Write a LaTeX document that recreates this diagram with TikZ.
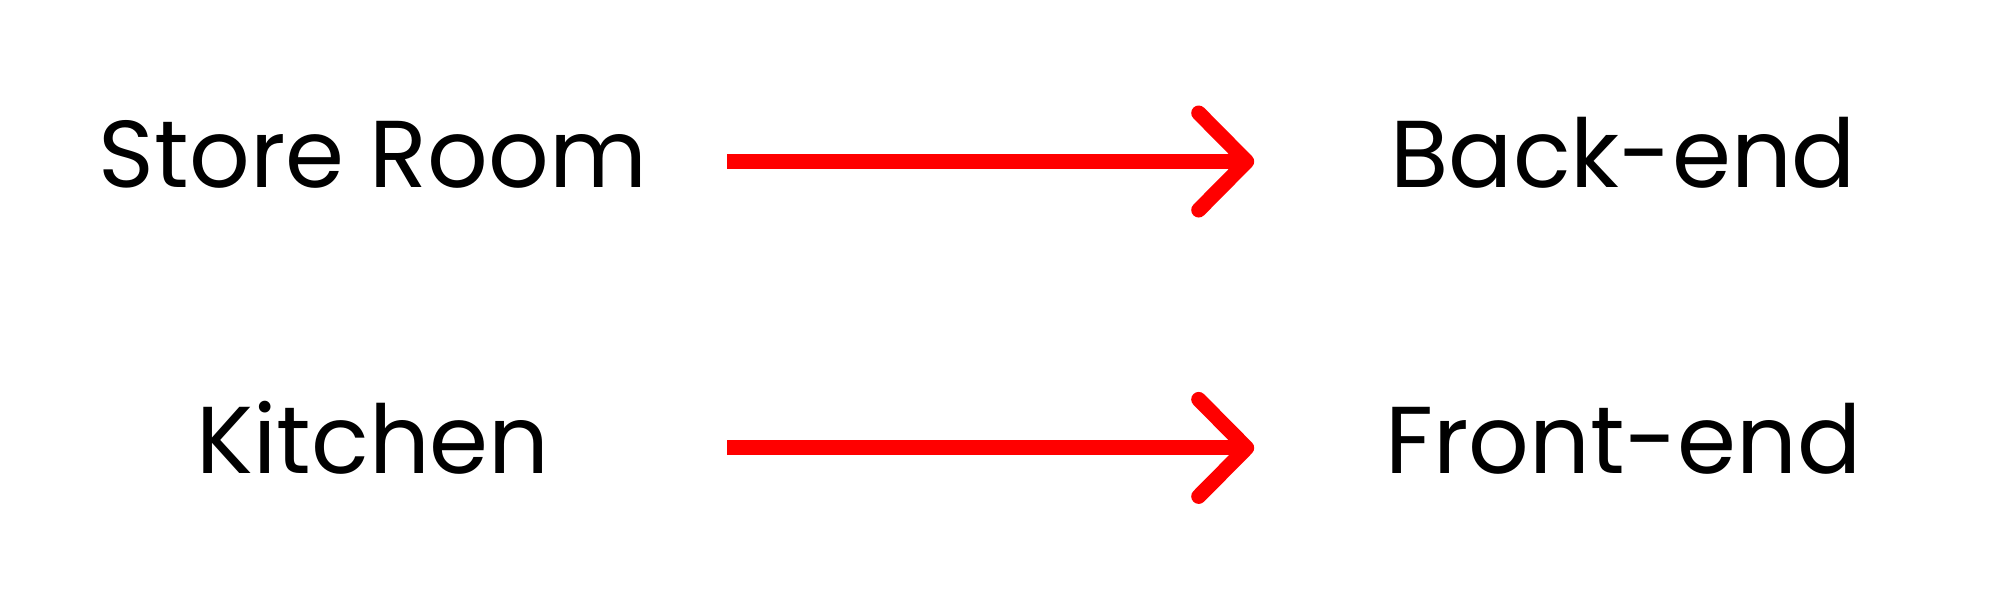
\documentclass[tikz,border=0pt]{standalone}
\usepackage{fontspec}
\setmainfont{Poppins}
\usepackage{tikz}
\usetikzlibrary{arrows.meta, positioning}

\begin{document}
\begin{tikzpicture}[x=1pt, y=-1pt,
    every node/.style={font=\fontsize{95}{110}\selectfont,
                       text height=66pt, text depth=15pt, inner sep=0pt},
    node distance = 205pt and 527pt,
    arr/.style = {-{Straight Barb[length=48pt, width=97pt, round]},
                  line width=15pt, red},
    lbox/.style = {minimum width=708pt},
    rbox/.style = {minimum width=738pt}
]
\useasboundingbox (0,0) rectangle (1994,608);

\node (n1) [lbox] at (373,161.5) {Store Room};
\node (n2) [rbox, right=of n1] {Back-end};
\node (n3) [lbox, below=of n1] {Kitchen};
\node (n4) [rbox, right=of n3] {Front-end};

\draw[arr] (n1) -- (n2);
\draw[arr] (n3) -- (n4);

\end{tikzpicture}
\end{document}
